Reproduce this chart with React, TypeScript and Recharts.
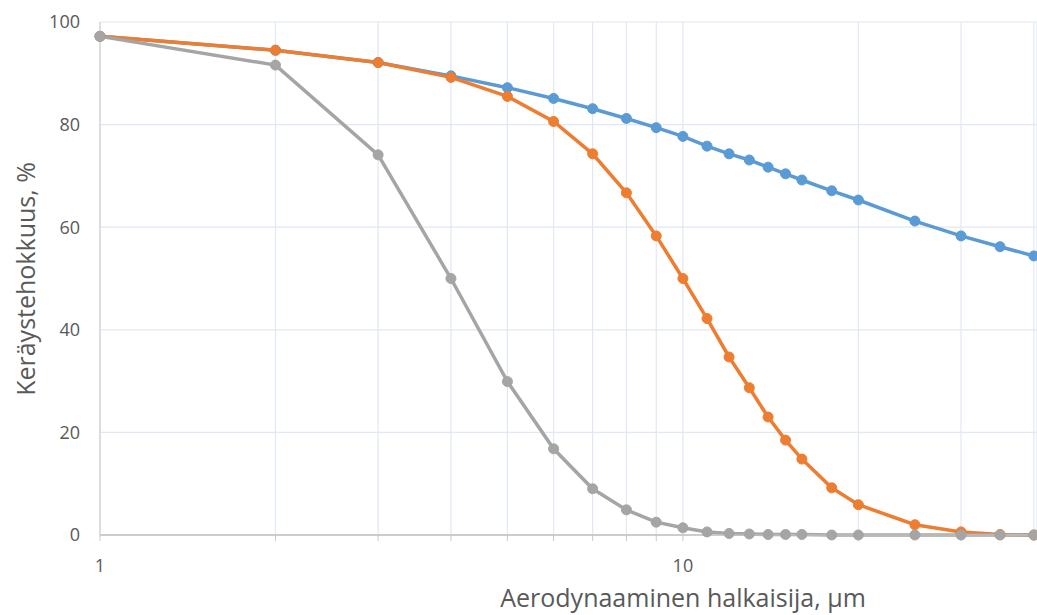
import React from 'react';
import { LineChart, Line, XAxis, YAxis, CartesianGrid, Label } from 'recharts';

const sizes = [1, 2, 3, 4, 5, 6, 7, 8, 9, 10, 11, 12, 13, 14, 15, 16, 18, 20, 25, 30, 35, 40];
const blueValues = [97.2, 94.5, 92.1, 89.5, 87.2, 85.1, 83.1, 81.2, 79.4, 77.7, 75.8, 74.3, 73.1, 71.7, 70.4, 69.2, 67.1, 65.3, 61.2, 58.3, 56.2, 54.4];
const orangeValues = [97.2, 94.5, 92.1, 89.2, 85.5, 80.6, 74.3, 66.7, 58.3, 50.0, 42.2, 34.7, 28.7, 23.0, 18.5, 14.8, 9.2, 5.9, 2.0, 0.6, 0.1, 0];
const grayValues = [97.2, 91.6, 74.1, 50.0, 29.9, 16.8, 9.0, 4.9, 2.5, 1.4, 0.6, 0.3, 0.2, 0.1, 0.1, 0.1, 0, 0, 0, 0, 0, 0];

const xTicks = [1, 2, 3, 4, 5, 6, 7, 8, 9, 10, 20, 30, 40];
const xLabelledTicks = [1, 10];
const yTicks = [0, 20, 40, 60, 80, 100];
const xAxisTitle = 'Aerodynaaminen halkaisija, µm';
const yAxisTitle = 'Keräystehokkuus, %';

const data = sizes.map((s, i) => ({
  size: s,
  blue: blueValues[i],
  orange: orangeValues[i],
  gray: grayValues[i],
}));

const FONT = '"Open Sans", "DejaVu Sans", sans-serif';
const TEXT = '#595959';

const XTitle = () => (
  <text x={683} y={607} textAnchor="middle" fontFamily={FONT} fontSize={25} fill={TEXT}>
    {xAxisTitle}
  </text>
);

const YTitle = () => (
  <text
    x={35}
    y={279}
    textAnchor="middle"
    fontFamily={FONT}
    fontSize={25}
    fill={TEXT}
    transform="rotate(-90 35 279)"
  >
    {yAxisTitle}
  </text>
);

export default function App() {
  return (
    <div style={{ position: 'absolute', left: 0, top: 0 }}>
      <LineChart
        width={1037}
        height={615}
        data={data}
        margin={{ top: 22, right: 0, bottom: 0, left: 40 }}
      >
        <CartesianGrid stroke="#e0e8f3" strokeWidth={1.2} />
        <XAxis
          dataKey="size"
          type="number"
          scale="log"
          domain={[1, 40.5]}
          ticks={xTicks}
          interval={0}
          height={80}
          tickSize={6}
          tickMargin={18}
          tickFormatter={(v: number) => (xLabelledTicks.includes(v) ? String(v) : '')}
          tick={{ fontSize: 18, fill: TEXT, fontFamily: FONT }}
          axisLine={{ stroke: '#bfbfbf', strokeWidth: 1.5 }}
          tickLine={{ stroke: '#c8c8c8' }}
        >
          <Label content={<XTitle />} />
        </XAxis>
        <YAxis
          type="number"
          domain={[0, 100]}
          ticks={yTicks}
          width={60}
          tickSize={0}
          tickMargin={20}
          tick={{ fontSize: 18, fill: TEXT, fontFamily: FONT }}
          axisLine={{ stroke: '#d0d0d0', strokeWidth: 1.2 }}
          tickLine={false}
        >
          <Label content={<YTitle />} />
        </YAxis>
        <Line
          type="linear"
          dataKey="blue"
          stroke="#5B9BD5"
          strokeWidth={3.5}
          dot={{ r: 5, fill: '#5B9BD5', stroke: '#5B9BD5', strokeWidth: 1 }}
          activeDot={false}
          isAnimationActive={false}
        />
        <Line
          type="linear"
          dataKey="orange"
          stroke="#ED7D31"
          strokeWidth={3.5}
          dot={{ r: 5, fill: '#ED7D31', stroke: '#ED7D31', strokeWidth: 1 }}
          activeDot={false}
          isAnimationActive={false}
        />
        <Line
          type="linear"
          dataKey="gray"
          stroke="#A5A5A5"
          strokeWidth={3.5}
          dot={{ r: 5, fill: '#A5A5A5', stroke: '#A5A5A5', strokeWidth: 1 }}
          activeDot={false}
          isAnimationActive={false}
        />
      </LineChart>
    </div>
  );
}
